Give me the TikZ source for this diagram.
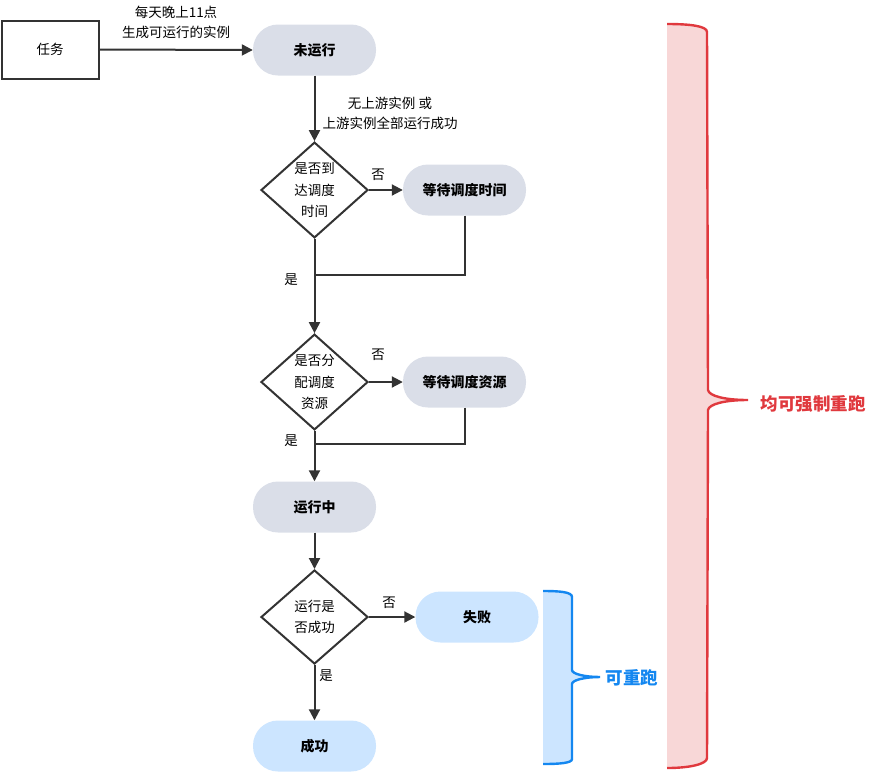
\documentclass[tikz,border=0pt]{standalone}
\usepackage{fontspec}
\setmainfont{Noto Sans CJK SC}
\usetikzlibrary{shapes.geometric,arrows.meta}
\definecolor{linec}{RGB}{51,51,51}
\definecolor{pillgray}{RGB}{218,222,232}
\definecolor{pillblue}{RGB}{204,229,255}
\definecolor{redc}{RGB}{224,57,62}
\definecolor{redfill}{RGB}{248,215,215}
\definecolor{bluec}{RGB}{20,135,240}
\definecolor{bluefill}{RGB}{204,229,255}
\tikzset{
  ln/.style={draw=linec, line width=2pt},
  arr/.style={ln, -{Triangle[length=11pt,width=11pt]}},
  pill/.style={rectangle, rounded corners=25pt, minimum width=123pt, minimum height=51pt, fill=pillgray, font=\fontsize{14}{16}\selectfont\bfseries, text=black},
  bpill/.style={pill, fill=pillblue},
  decision/.style={diamond, draw=linec, line width=2pt, fill=white, inner sep=0pt, minimum width=107pt, minimum height=94pt, align=center, font=\fontsize{13.5}{21.5}\selectfont},
  lbl/.style={font=\fontsize{13.5}{20}\selectfont, align=center, inner sep=0pt, text=black},
}
\begin{document}
\begin{tikzpicture}[x=1pt, y=-1pt]
\useasboundingbox (0,0) rectangle (880,774);
% braces
\path[fill=redfill] (667,24) .. controls (690,24) and (707,26) .. (707,32) -- (708,390) .. controls (709,396) and (725,400) .. (748,400) .. controls (725,400) and (709,404) .. (708,410) -- (707,758) .. controls (707,764) and (690,768) .. (667,768) -- cycle;
\draw[redc, line width=2.4pt] (667,24) .. controls (690,24) and (707,26) .. (707,32) -- (708,390) .. controls (709,396) and (725,400) .. (748,400) .. controls (725,400) and (709,404) .. (708,410) -- (707,758) .. controls (707,764) and (690,768) .. (667,768);
\path[fill=bluefill] (543,591) .. controls (560,591) and (572,592) .. (572,597) -- (572,670) .. controls (572,674) and (585,677) .. (600,677) .. controls (585,677) and (572,680) .. (572,684) -- (572,759) .. controls (572,763) and (560,764) .. (543,764) -- cycle;
\draw[bluec, line width=2.4pt] (543,591) .. controls (560,591) and (572,592) .. (572,597) -- (572,670) .. controls (572,674) and (585,677) .. (600,677) .. controls (585,677) and (572,680) .. (572,684) -- (572,759) .. controls (572,763) and (560,764) .. (543,764);
\node[font=\fontsize{17.5}{20}\selectfont\bfseries, text=redc, inner sep=0pt] (redlbl) at (813,404) {均可强制重跑};
\node[font=\fontsize{17.5}{20}\selectfont\bfseries, text=bluec, inner sep=0pt] (bluelbl) at (632,678) {可重跑};

% nodes
\node[rectangle, draw=linec, line width=2pt, minimum width=97pt, minimum height=58pt, font=\fontsize{13.5}{16}\selectfont] (task) at (50,49.5) {任务};
\node[pill] (s0) at (314.5,50) {未运行};
\node[decision] (d1) at (314.5,190) {是否到\\达调度\\时间};
\node[pill] (w1) at (464.5,190) {等待调度时间};
\node[decision] (d2) at (314.5,382) {是否分\\配调度\\资源};
\node[pill] (w2) at (464.5,382) {等待调度资源};
\node[pill] (run) at (314.5,507) {运行中};
\node[decision] (d3) at (314.5,617) {运行是\\否成功};
\node[bpill] (fail) at (477,617) {失败};
\node[bpill] (ok) at (314.5,746) {成功};

\coordinate (j1) at (314.5,275);
\coordinate (j2) at (314.5,444);

% connectors
\draw[arr] (task.east) -- (s0.west);
\draw[arr] (s0.south) -- (d1.north);
\draw[arr] (d1.east) -- (w1.west);
\draw[ln] (w1.south) |- (j1);
\draw[arr] (d1.south) -- (d2.north);
\draw[arr] (d2.east) -- (w2.west);
\draw[ln] (w2.south) |- (j2);
\draw[arr] (d2.south) -- (run.north);
\draw[arr] (run.south) -- (d3.north);
\draw[arr] (d3.east) -- (fail.west);
\draw[arr] (d3.south) -- (ok.north);

% labels
\node[lbl] (l1) at (176,22) {每天晚上11点\\生成可运行的实例};
\node[lbl] (l2) at (390,113) {无上游实例 或\\上游实例全部运行成功};
\node[lbl] (n1) at (378,175) {否};
\node[lbl] (n2) at (378,355) {否};
\node[lbl] (n3) at (389,603) {否};
\node[lbl] (y1) at (291,280) {是};
\node[lbl] (y2) at (291,441) {是};
\node[lbl] (y3) at (326,676) {是};
\end{tikzpicture}
\end{document}
